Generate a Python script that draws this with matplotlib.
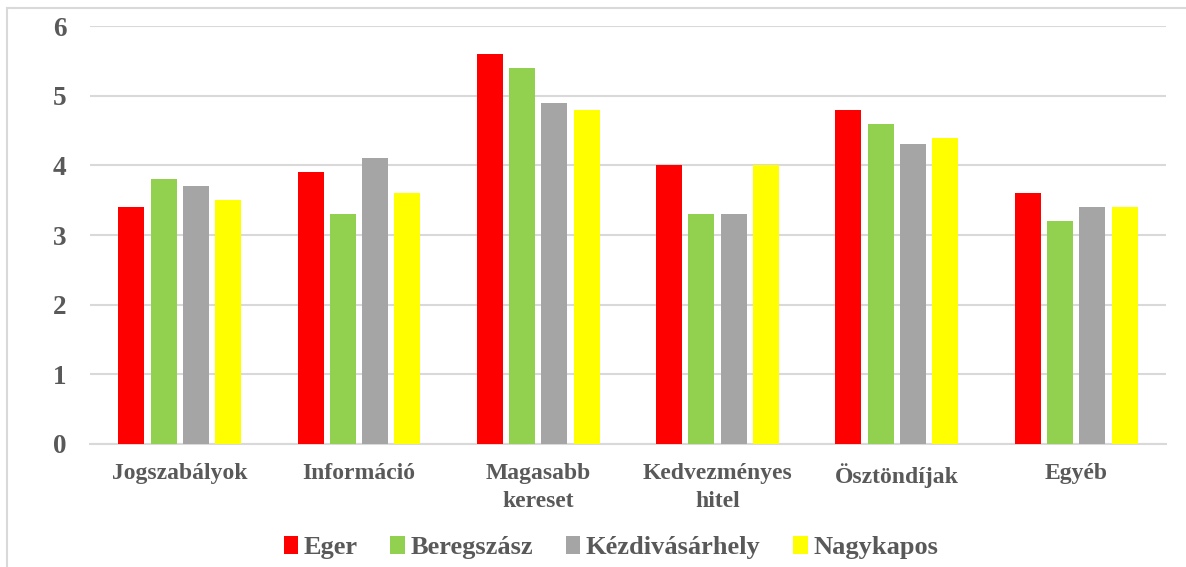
import numpy as np
import matplotlib.pyplot as plt
from matplotlib.lines import Line2D

# data
categories = ["Jogszabályok", "Információ", "Magasabb\nkereset",
              "Kedvezményes\nhitel", "Ösztöndíjak", "Egyéb"]
eger = [3.4, 3.9, 5.6, 4.0, 4.8, 3.6]
beregszasz = [3.8, 3.3, 5.4, 3.3, 4.6, 3.2]
kezdivasarhely = [3.7, 4.1, 4.9, 3.3, 4.3, 3.4]
nagykapos = [3.5, 3.6, 4.8, 4.0, 4.4, 3.4]

series = [("Eger", eger, "#FF0000"),
          ("Beregszász", beregszasz, "#92D050"),
          ("Kézdivásárhely", kezdivasarhely, "#A5A5A5"),
          ("Nagykapos", nagykapos, "#FFFF00")]

text_color = "#595959"
plt.rcParams['font.family'] = ['Liberation Serif', 'DejaVu Serif']
plt.rcParams['font.weight'] = 'bold'

fig = plt.figure(figsize=(11.86, 5.67), dpi=100)
ax = fig.add_axes([0.0759, 0.217, 0.9071, 0.737])

x = np.arange(len(categories))
width = 0.145
step = 0.18
for i, (name, vals, col) in enumerate(series):
    ax.bar(x + (i - 1.5) * step, vals, width, color=col, label=name,
           zorder=3)

ax.set_xlim(-0.5, len(categories) - 0.5)
ax.set_ylim(0, 6)
ax.set_yticks(range(0, 7))
ax.set_yticklabels([str(v) for v in range(0, 7)], fontsize=19.5,
                   fontweight='bold', color=text_color)
ax.set_xticks(x)
ax.set_xticklabels(categories, fontsize=17, fontweight='bold',
                   color=text_color, linespacing=1.4)
ax.tick_params(axis='both', length=0)
ax.tick_params(axis='y', pad=17)
ax.tick_params(axis='x', pad=14)

ax.grid(axis='y', color="#D9D9D9", linewidth=1.5, zorder=0)
for s in ["top", "right", "left"]:
    ax.spines[s].set_visible(False)
ax.spines["bottom"].set_color("#D9D9D9")
ax.spines["bottom"].set_linewidth(1.5)

fig.legend(loc="center", bbox_to_anchor=(0.515, 0.034), ncol=4,
           frameon=False, prop={'size': 19, 'weight': 'bold'},
           labelcolor=text_color, handlelength=0.55, handleheight=0.7,
           handletextpad=0.2, columnspacing=1.25)

# chart frame (top and left edges visible)
fig.add_artist(Line2D([7 / 1186, 1.0], [1 - 8 / 567, 1 - 8 / 567],
                      color="#D9D9D9", linewidth=1.5, transform=fig.transFigure))
fig.add_artist(Line2D([7 / 1186, 7 / 1186], [0.0, 1 - 8 / 567],
                      color="#D9D9D9", linewidth=1.5, transform=fig.transFigure))

fig.savefig("out.png", dpi=100)
